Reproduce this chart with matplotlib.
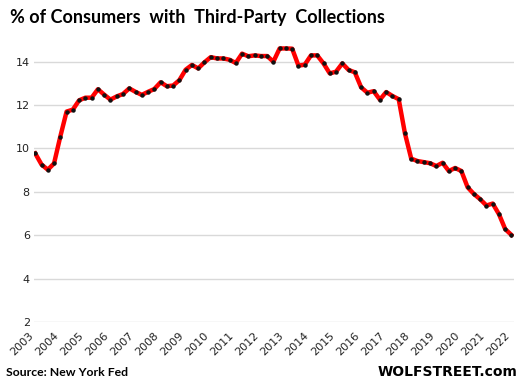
import numpy as np
import matplotlib.pyplot as plt

# quarterly, 2003 Q1 .. 2022 Q1
years = list(range(2003, 2023))
pct = [9.77, 9.26, 9.02, 9.31, 10.55, 11.70, 11.79, 12.22, 12.34, 12.34,
       12.73, 12.48, 12.25, 12.40, 12.51, 12.77, 12.61, 12.47, 12.61, 12.74,
       13.05, 12.87, 12.90, 13.15, 13.63, 13.85, 13.69, 13.97, 14.21, 14.15,
       14.15, 14.09, 13.94, 14.37, 14.25, 14.29, 14.26, 14.26, 14.00, 14.61,
       14.61, 14.60, 13.82, 13.86, 14.29, 14.29, 13.92, 13.46, 13.54, 13.92,
       13.62, 13.51, 12.82, 12.57, 12.64, 12.25, 12.60, 12.42, 12.27, 10.69,
       9.53, 9.42, 9.37, 9.32, 9.19, 9.34, 8.96, 9.10, 8.96, 8.21,
       7.90, 7.66, 7.37, 7.46, 6.97, 6.28, 6.01]
yticks = [2, 4, 6, 8, 10, 12, 14]

fig = plt.figure(figsize=(5.24, 3.91), dpi=100)
ax = fig.add_axes([34/524, 69/391, 480/524, 282/391])

x = np.arange(len(pct))
ax.plot(x, pct, color='#ff0000', lw=3.2, solid_joinstyle='round', zorder=3)
ax.plot(x, pct, 'o', color='#111111', ms=2.2, zorder=4)

ax.set_xlim(-0.2, 76.4)
ax.set_ylim(2, 15)
ax.set_yticks(yticks)
ax.set_yticklabels([str(v) for v in yticks], fontsize=8, color='#222222')
ax.set_xticks(x[::4])
ax.set_xticklabels([str(y) for y in years], rotation=45, ha='right', va='top',
                   fontsize=8, color='#222222')
ax.tick_params(length=0, pad=3)
ax.tick_params(axis='x', pad=6)
ax.grid(axis='y', color='#d9d9d9', lw=1)
ax.set_axisbelow(True)
for s in ax.spines.values():
    s.set_visible(False)

fig.text(10/524, 1 - 18/391, '% of Consumers  with  Third-Party  Collections',
         fontsize=13, fontweight='bold', family='Lato', va='center', ha='left')
fig.text(6/524, 1 - 373/391, 'Source: New York Fed', fontsize=8.8,
         fontweight='bold', family='Lato', va='center', ha='left')
fig.text(517/524, 1 - 372/391, 'WOLFSTREET.com', fontsize=10,
         fontweight='bold', va='center', ha='right')

fig.savefig('out.png', dpi=100)
